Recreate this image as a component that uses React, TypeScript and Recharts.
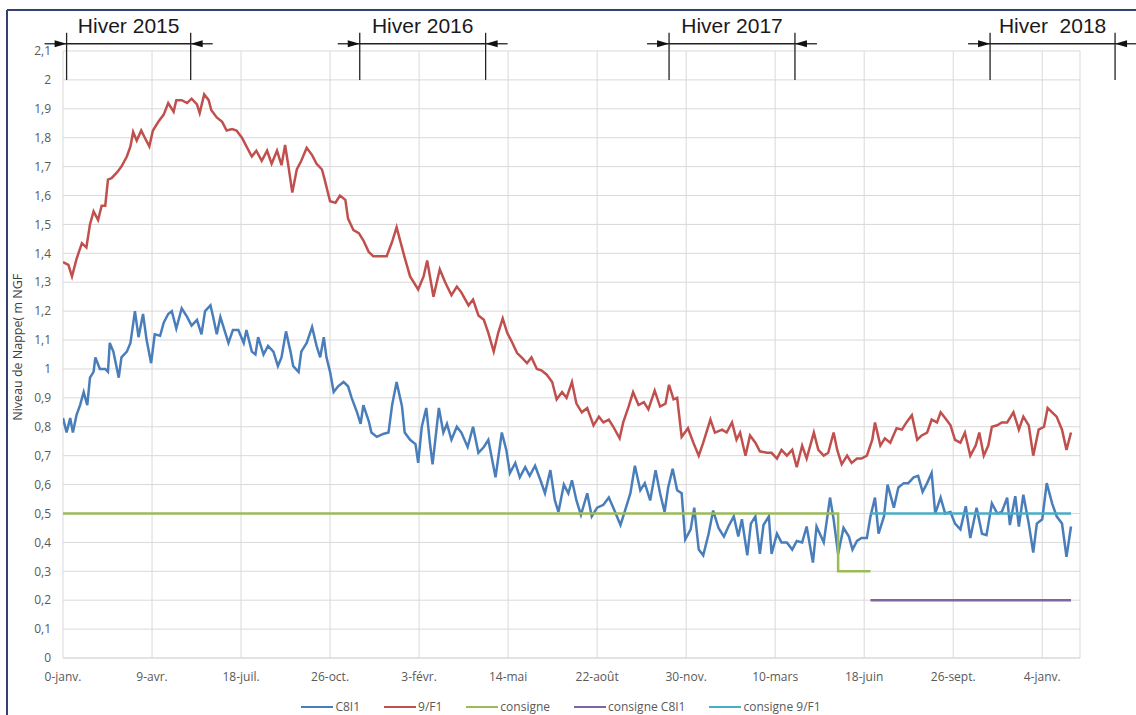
import React from 'react';
import { LineChart, Line, XAxis, YAxis, CartesianGrid } from 'recharts';

// ---------- data ----------
const X_TICKS = [0, 99, 198, 297, 396, 495, 594, 693, 792, 891, 990, 1089];
const X_TICK_LABELS = ['0-janv.', '9-avr.', '18-juil.', '26-oct.', '3-févr.', '14-mai', '22-août', '30-nov.', '10-mars', '18-juin', '26-sept.', '4-janv.'];
const Y_TICKS = [0, 0.1, 0.2, 0.3, 0.4, 0.5, 0.6, 0.7, 0.8, 0.9, 1, 1.1, 1.2, 1.3, 1.4, 1.5, 1.6, 1.7, 1.8, 1.9, 2, 2.1];
const X_MAX = 1131;

// [day, level m NGF]
const C8I1_POINTS: [number, number][] = [
  [0,0.83],[4,0.78],[8,0.83],[11,0.78],[15,0.84],[19,0.875],[23,0.92],[27,0.875],[30,0.97],[34,0.99],[36,1.04],[41,1.0],[47,1.0],[50,0.99],[52,1.09],[56,1.06],[62,0.97],[65,1.04],[71,1.06],[75,1.09],[80,1.2],[84,1.11],[89,1.19],[93,1.1],[98,1.02],[102,1.12],[108,1.115],[112,1.16],[117,1.19],[121,1.2],[126,1.14],[132,1.21],[138,1.18],[143,1.15],[149,1.17],[154,1.12],[158,1.2],[164,1.22],[167,1.18],[171,1.12],[175,1.18],[180,1.13],[184,1.09],[189,1.135],[195,1.135],[201,1.09],[204,1.135],[210,1.06],[214,1.05],[217,1.11],[223,1.05],[228,1.08],[234,1.06],[239,1.01],[243,1.04],[248,1.13],[253,1.06],[256,1.01],[262,0.99],[265,1.06],[271,1.09],[277,1.145],[282,1.08],[286,1.04],[290,1.11],[293,1.04],[297,0.99],[301,0.92],[306,0.94],[312,0.955],[317,0.94],[321,0.9],[327,0.85],[331,0.81],[334,0.875],[340,0.82],[343,0.78],[349,0.765],[356,0.775],[362,0.78],[366,0.875],[371,0.955],[377,0.87],[380,0.78],[386,0.755],[392,0.74],[395,0.675],[399,0.8],[404,0.865],[408,0.745],[411,0.67],[418,0.865],[423,0.78],[427,0.81],[432,0.755],[438,0.8],[443,0.78],[450,0.73],[456,0.8],[462,0.71],[468,0.73],[473,0.755],[481,0.625],[488,0.78],[493,0.72],[497,0.64],[503,0.675],[508,0.625],[514,0.66],[519,0.63],[525,0.665],[531,0.615],[536,0.57],[542,0.65],[547,0.545],[551,0.505],[557,0.6],[562,0.57],[566,0.615],[571,0.545],[576,0.495],[583,0.57],[588,0.49],[594,0.52],[601,0.53],[607,0.555],[612,0.52],[620,0.46],[625,0.51],[631,0.57],[636,0.665],[642,0.58],[647,0.605],[653,0.545],[659,0.65],[664,0.57],[669,0.505],[673,0.59],[678,0.655],[683,0.58],[688,0.57],[692,0.41],[698,0.445],[702,0.52],[707,0.375],[712,0.355],[718,0.43],[723,0.51],[729,0.45],[735,0.42],[740,0.455],[746,0.49],[751,0.42],[755,0.48],[761,0.355],[765,0.465],[770,0.49],[775,0.36],[779,0.46],[785,0.49],[788,0.36],[794,0.43],[799,0.4],[805,0.4],[811,0.375],[816,0.405],[822,0.4],[827,0.455],[834,0.33],[838,0.455],[846,0.4],[853,0.555],[857,0.48],[862,0.36],[868,0.45],[874,0.42],[878,0.375],[883,0.405],[888,0.415],[894,0.415],[898,0.49],[903,0.555],[907,0.43],[913,0.49],[917,0.6],[924,0.52],[929,0.59],[935,0.605],[940,0.605],[946,0.625],[951,0.63],[956,0.575],[961,0.605],[966,0.64],[970,0.5],[976,0.555],[981,0.5],[987,0.505],[992,0.465],[998,0.445],[1004,0.525],[1009,0.415],[1016,0.52],[1022,0.43],[1027,0.425],[1033,0.535],[1039,0.5],[1044,0.505],[1050,0.555],[1053,0.46],[1059,0.56],[1063,0.455],[1068,0.565],[1074,0.465],[1079,0.365],[1083,0.465],[1089,0.48],[1094,0.605],[1100,0.535],[1105,0.49],[1111,0.465],[1116,0.35],[1121,0.455]
];

const F1_POINTS: [number, number][] = [
  [0,1.37],[6,1.36],[10,1.32],[15,1.38],[21,1.435],[26,1.42],[30,1.5],[34,1.545],[39,1.515],[43,1.565],[47,1.565],[50,1.655],[54,1.66],[60,1.68],[65,1.7],[71,1.735],[75,1.77],[78,1.82],[82,1.79],[87,1.825],[91,1.8],[96,1.77],[100,1.825],[106,1.855],[112,1.88],[117,1.92],[123,1.89],[126,1.93],[132,1.93],[138,1.92],[143,1.935],[149,1.915],[152,1.885],[157,1.95],[162,1.93],[165,1.895],[171,1.87],[177,1.855],[182,1.825],[188,1.83],[193,1.825],[199,1.8],[204,1.77],[210,1.735],[215,1.755],[221,1.72],[227,1.755],[232,1.71],[238,1.755],[243,1.705],[247,1.775],[251,1.695],[255,1.61],[260,1.69],[265,1.72],[271,1.765],[277,1.74],[282,1.71],[288,1.69],[291,1.655],[297,1.58],[303,1.575],[308,1.6],[314,1.585],[317,1.52],[323,1.48],[329,1.47],[334,1.445],[340,1.405],[345,1.39],[353,1.39],[360,1.39],[366,1.44],[371,1.49],[380,1.385],[386,1.32],[395,1.275],[401,1.32],[405,1.375],[412,1.25],[419,1.345],[425,1.3],[432,1.255],[438,1.285],[443,1.265],[451,1.22],[456,1.24],[462,1.185],[468,1.17],[473,1.125],[479,1.06],[484,1.125],[489,1.175],[494,1.125],[499,1.095],[505,1.055],[510,1.04],[516,1.02],[521,1.04],[527,1.0],[532,0.995],[538,0.98],[544,0.955],[549,0.895],[555,0.92],[560,0.9],[566,0.955],[571,0.88],[577,0.85],[583,0.865],[590,0.805],[596,0.835],[601,0.815],[607,0.825],[612,0.8],[619,0.76],[623,0.815],[629,0.87],[634,0.92],[640,0.875],[646,0.885],[651,0.86],[658,0.925],[664,0.87],[670,0.88],[674,0.945],[679,0.895],[683,0.9],[688,0.765],[695,0.795],[701,0.745],[707,0.7],[712,0.745],[720,0.825],[725,0.78],[733,0.79],[738,0.78],[744,0.815],[749,0.755],[753,0.78],[759,0.7],[764,0.77],[770,0.745],[775,0.715],[783,0.71],[788,0.71],[794,0.69],[799,0.72],[805,0.7],[811,0.72],[816,0.66],[822,0.735],[827,0.69],[835,0.78],[840,0.72],[846,0.7],[851,0.71],[857,0.78],[861,0.72],[866,0.67],[872,0.7],[877,0.675],[883,0.69],[888,0.69],[894,0.7],[900,0.755],[903,0.815],[909,0.735],[914,0.76],[920,0.745],[927,0.795],[933,0.79],[938,0.815],[944,0.84],[950,0.755],[955,0.77],[961,0.78],[966,0.825],[972,0.815],[976,0.85],[981,0.83],[987,0.805],[992,0.755],[998,0.745],[1003,0.78],[1009,0.7],[1015,0.735],[1019,0.78],[1024,0.7],[1029,0.735],[1033,0.8],[1039,0.805],[1044,0.815],[1050,0.815],[1057,0.85],[1063,0.79],[1068,0.835],[1074,0.805],[1079,0.7],[1085,0.79],[1091,0.8],[1095,0.865],[1100,0.85],[1105,0.835],[1111,0.79],[1116,0.72],[1121,0.78]
];

const CONSIGNE_POINTS: [number, number][] = [[0, 0.5], [862, 0.5], [862, 0.3], [898, 0.3]];
const CONSIGNE_C8I1_POINTS: [number, number][] = [[898, 0.2], [1121, 0.2]];
const CONSIGNE_F1_POINTS: [number, number][] = [[898, 0.5], [1121, 0.5]];

const WINTERS = [
  { label: 'Hiver 2015', start: 4, end: 142 },
  { label: 'Hiver 2016', start: 330, end: 470 },
  { label: 'Hiver 2017', start: 674, end: 814 },
  { label: 'Hiver  2018', start: 1031, end: 1170 },
];

// ---------- style ----------
const BLUE = '#4a7ebb';
const RED = '#c0504d';
const GREEN = '#9bbb59';
const PURPLE = '#8064a2';
const CYAN = '#4bacc6';

const SERIES = [
  { name: 'C8I1', color: BLUE, points: C8I1_POINTS },
  { name: '9/F1', color: RED, points: F1_POINTS },
  { name: 'consigne', color: GREEN, points: CONSIGNE_POINTS },
  { name: 'consigne C8I1', color: PURPLE, points: CONSIGNE_C8I1_POINTS },
  { name: 'consigne 9/F1', color: CYAN, points: CONSIGNE_F1_POINTS },
];

const W = 1136;
const H = 715;
const PLOT_LEFT = 63;
const PLOT_RIGHT = 1080;
const PLOT_TOP = 51;
const PLOT_BOTTOM = 658;
const Y_MAX = 2.1;
const FONT = '"Open Sans", sans-serif';

const xPx = (d: number) => PLOT_LEFT + (d / X_MAX) * (PLOT_RIGHT - PLOT_LEFT);
const yPx = (v: number) => PLOT_BOTTOM - (v / Y_MAX) * (PLOT_BOTTOM - PLOT_TOP);

const fmtY = (v: number) => {
  const r = Math.round(v * 10) / 10;
  return String(r).replace('.', ',');
};
const fmtX = (v: number) => {
  const i = X_TICKS.indexOf(v);
  return i >= 0 ? X_TICK_LABELS[i] : '';
};

const toRows = (pts: [number, number][]) => pts.map(([day, v]) => ({ day, v }));

function Annotations() {
  const lineY = yPx(2.125);
  const topY = yPx(2.163);
  const botY = yPx(2.0);
  const arrow = (tipX: number, dir: number, key: string) => {
    const tail = tipX - dir * 22;
    const base = tipX - dir * 12;
    return (
      <g key={key}>
        <line x1={tail} y1={lineY} x2={tipX} y2={lineY} stroke="#222" strokeWidth={1.3} />
        <polygon points={`${tipX},${lineY} ${base},${lineY - 3.5} ${base},${lineY + 3.5}`} fill="#111" />
      </g>
    );
  };
  return (
    <svg width={W} height={H} style={{ position: 'absolute', left: 0, top: 0, pointerEvents: 'none' }}>
      <line x1={7} y1={10} x2={W} y2={10} stroke="#34426f" strokeWidth={2} />
      <line x1={7} y1={10} x2={7} y2={H} stroke="#34426f" strokeWidth={2} />
      {WINTERS.map((w) => {
        const a = xPx(w.start);
        const b = xPx(w.end);
        return (
          <g key={w.label}>
            <line x1={a} y1={lineY} x2={b} y2={lineY} stroke="#222" strokeWidth={1.3} />
            <line x1={a} y1={topY} x2={a} y2={botY} stroke="#222" strokeWidth={1.3} />
            <line x1={b} y1={topY} x2={b} y2={botY} stroke="#222" strokeWidth={1.3} />
            {arrow(a, 1, 'l')}
            {arrow(b, -1, 'r')}
            <text x={(a + b) / 2} y={33} textAnchor="middle" fontFamily='"Liberation Sans", Arial, sans-serif' fontSize={21} fill="#1a1a1a" style={{ whiteSpace: 'pre' }}>
              {w.label}
            </text>
          </g>
        );
      })}
      <text
        x={22}
        y={(yPx(0.8) + yPx(1.35)) / 2}
        transform={`rotate(-90 22 ${(yPx(0.8) + yPx(1.35)) / 2})`}
        textAnchor="middle"
        fontFamily={FONT}
        fontSize={12.5}
        fill="#404040"
      >
        Niveau de Nappe( m NGF
      </text>
    </svg>
  );
}

function LegendBox() {
  return (
    <div
      style={{
        position: 'absolute',
        left: 0,
        top: 699,
        width: 1122,
        display: 'flex',
        justifyContent: 'center',
        gap: 24,
        fontFamily: FONT,
        fontSize: 12,
        color: '#595959',
        lineHeight: '16px',
      }}
    >
      {SERIES.map((s) => (
        <div key={s.name} style={{ display: 'flex', alignItems: 'center' }}>
          <span style={{ display: 'inline-block', width: 32, height: 2, background: s.color, marginRight: 2 }} />
          {s.name}
        </div>
      ))}
    </div>
  );
}

export default function App() {
  return (
    <div style={{ position: 'absolute', left: 0, top: 0, width: W, height: H, background: '#fff' }}>
      <LineChart
        width={W}
        height={H}
        margin={{ top: PLOT_TOP, right: W - PLOT_RIGHT, bottom: 0, left: 0 }}
      >
        <CartesianGrid stroke="#d9d9d9" strokeWidth={1} />
        <XAxis
          dataKey="day"
          type="number"
          domain={[0, X_MAX]}
          ticks={X_TICKS}
          tickFormatter={fmtX}
          allowDataOverflow
          axisLine={{ stroke: '#d9d9d9' }}
          tickLine={false}
          tickMargin={8}
          tick={{ fill: '#595959', fontSize: 12, fontFamily: FONT }}
          height={H - PLOT_BOTTOM}
        />
        <YAxis
          type="number"
          domain={[0, Y_MAX]}
          ticks={Y_TICKS}
          tickFormatter={fmtY}
          axisLine={false}
          tickLine={false}
          tickMargin={6}
          width={PLOT_LEFT}
          tick={{ fill: '#595959', fontSize: 12, fontFamily: FONT }}
          interval={0}
        />
        {SERIES.map((s) => (
          <Line
            key={s.name}
            name={s.name}
            data={toRows(s.points)}
            dataKey="v"
            type="linear"
            stroke={s.color}
            strokeWidth={2.5}
            dot={false}
            activeDot={false}
            isAnimationActive={false}
          />
        ))}
      </LineChart>
      <Annotations />
      <LegendBox />
    </div>
  );
}
